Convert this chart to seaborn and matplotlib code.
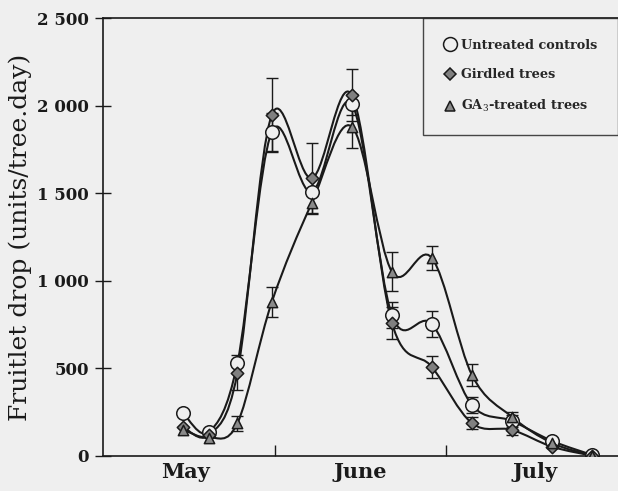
import numpy as np
import pandas as pd
import matplotlib
matplotlib.use("Agg")
import matplotlib.pyplot as plt
from matplotlib.path import Path
from matplotlib.patches import PathPatch
from matplotlib.lines import Line2D
import seaborn as sns

# sampling dates, in days from 1 May
days = [15, 19.5, 24.5, 30.5, 37.5, 44.5, 51.5, 58.5, 65.5, 72.5, 79.5, 86.5]

control = [245, 137, 531, 1850, 1507, 2009, 805, 753, 291, 200, 86, 6]
girdled = [166, 120, 474, 1946, 1585, 2060, 760, 508, 187, 149, 53, 2]
ga3 = [150, 105, 187, 878, 1444, 1880, 1052, 1130, 462, 223, 74, 2]

err_control = [0, 0, 0, 110, 0, 60, 75, 76, 48, 35, 0, 0]
err_girdled = [0, 0, 100, 210, 200, 150, 90, 62, 33, 30, 0, 0]
err_ga3 = [0, 0, 43, 85, 60, 120, 110, 67, 64, 30, 0, 0]

labels = ["Untreated controls", "Girdled trees", "GA$_3$-treated trees"]
months = ["May", "June", "July"]
month_centres = [15.5, 46, 76.5]
month_bounds = [31, 61]
yticks = [0, 500, 1000, 1500, 2000, 2500]
ytick_labels = ["0", "500", "1 000", "1 500", "2 000", "2 500"]

sns.set_style("ticks")
plt.rcParams["font.family"] = ["DejaVu Serif"]
plt.rcParams["mathtext.fontset"] = "dejavuserif"

bg = "#efefef"
ink = "#1a1a1a"

fig = plt.figure(figsize=(6.18, 4.91), dpi=100, facecolor=bg)
ax = fig.add_axes([0.1667, 0.0713, 0.833, 0.892], facecolor=bg)


def smooth_path(x, y):
    # Catmull-Rom curve through the points, written as cubic Bezier segments
    pts = np.column_stack([x, y]).astype(float)
    ext = np.vstack([pts[0], pts, pts[-1]])
    verts = [pts[0]]
    codes = [Path.MOVETO]
    for i in range(1, len(ext) - 2):
        p0, p1, p2, p3 = ext[i - 1], ext[i], ext[i + 1], ext[i + 2]
        verts += [p1 + (p2 - p0) / 6, p2 - (p3 - p1) / 6, p2]
        codes += [Path.CURVE4] * 3
    return Path(verts, codes)


series = [control, girdled, ga3]
errs = [err_control, err_girdled, err_ga3]
for vals, err in zip(series, errs):
    ax.add_patch(PathPatch(smooth_path(days, vals), fill=False, ec=ink, lw=1.5, zorder=2))
    e = np.array(err, dtype=float)
    m = e > 0
    ax.errorbar(np.array(days)[m], np.array(vals)[m], yerr=e[m], fmt="none",
                ecolor=ink, elinewidth=1.0, capsize=4, capthick=1.0, zorder=3)

df = pd.DataFrame({
    "day": days * 3,
    "drop": control + girdled + ga3,
    "group": [labels[0]] * 12 + [labels[1]] * 12 + [labels[2]] * 12,
})
styles = {labels[0]: ("o", bg, 95), labels[1]: ("D", "#808080", 40), labels[2]: ("^", "#8a8a8a", 55)}
for g, (mk, fc, s) in styles.items():
    sns.scatterplot(data=df[df.group == g], x="day", y="drop", marker=mk, color=fc,
                    edgecolor=ink, linewidth=1.1, s=s, zorder=4, ax=ax, legend=False)

ax.set_xlim(1, 91)
ax.set_ylim(0, 2500)
ax.set_yticks(yticks)
ax.set_yticklabels(ytick_labels, fontsize=12, fontweight="bold", color=ink)
ax.tick_params(axis="y", direction="inout", length=12, width=1, colors=ink, pad=4)
ax.set_xticks(month_bounds)
ax.set_xticklabels([])
ax.tick_params(axis="x", which="major", direction="in", length=8, width=1, colors=ink)
ax.set_xticks(month_centres, minor=True)
ax.set_xticklabels(months, minor=True, fontsize=15, fontweight="bold", color=ink)
ax.tick_params(axis="x", which="minor", length=0, pad=4)
ax.set_xlabel("")
ax.set_ylabel("Fruitlet drop (units/tree.day)", fontsize=18, color=ink, labelpad=4)

for side in ["left", "bottom", "top"]:
    ax.spines[side].set_color(ink)
    ax.spines[side].set_linewidth(1.2)
ax.spines["right"].set_visible(False)

handles = [
    Line2D([], [], marker="o", ls="none", mfc=bg, mec=ink, ms=10, mew=1.1),
    Line2D([], [], marker="D", ls="none", mfc="#808080", mec=ink, ms=6, mew=1.1),
    Line2D([], [], marker="^", ls="none", mfc="#8a8a8a", mec=ink, ms=7.5, mew=1.1),
]
leg = ax.legend(handles, labels, loc="upper right", bbox_to_anchor=(1.0, 1.0),
                borderaxespad=0, frameon=True, fancybox=False, handletextpad=0.35,
                handlelength=1.0, labelspacing=1.3, borderpad=1.6,
                prop={"weight": "bold", "size": 9.3})
leg.get_frame().set_edgecolor(ink)
leg.get_frame().set_facecolor(bg)
leg.get_frame().set_linewidth(1.0)

fig.savefig("out.png", dpi=100, facecolor=bg)
